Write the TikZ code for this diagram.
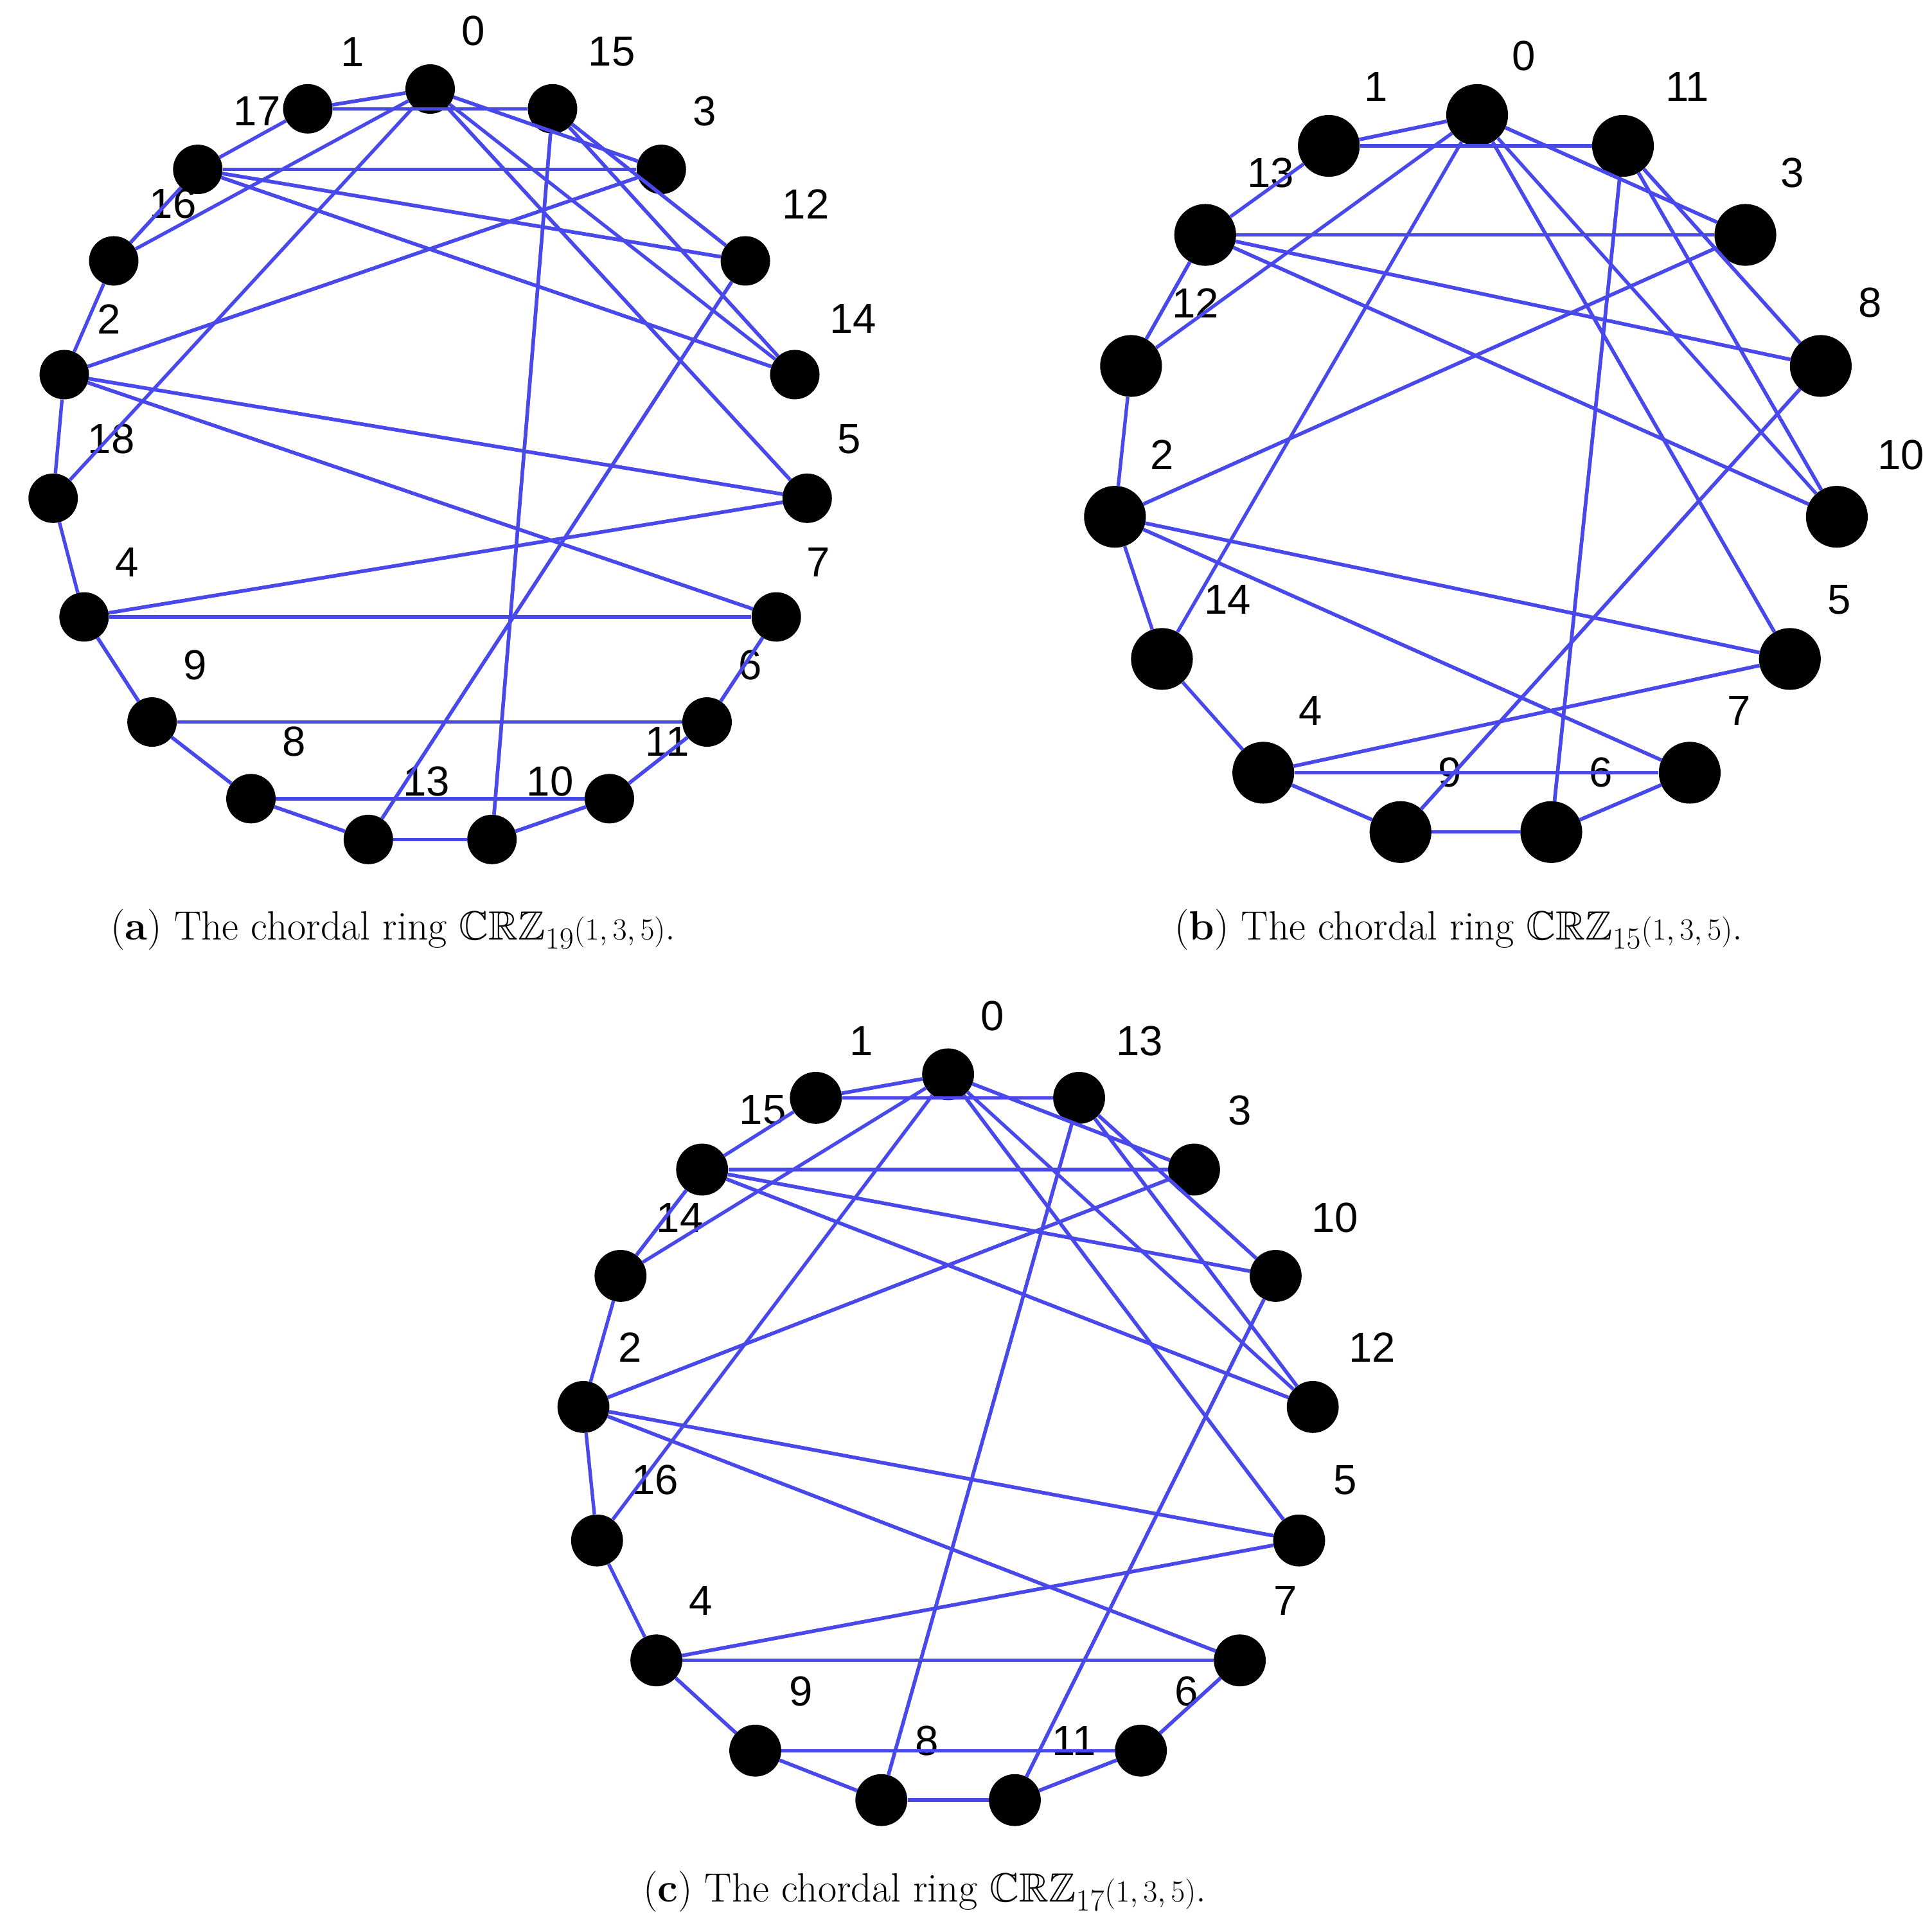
\documentclass[tikz,border=0pt]{standalone}
\usepackage{amssymb}
\usepackage{fontspec}
\newfontfamily\lblfont{Liberation Sans}
\tikzset{
  edge/.style={draw={rgb,255:red,72;green,72;blue,235}, line width=2.8pt},
  dotA/.style={circle, fill=black, inner sep=0pt, minimum size=40pt},
  dotB/.style={circle, fill=black, inner sep=0pt, minimum size=50pt},
  dotC/.style={circle, fill=black, inner sep=0pt, minimum size=42pt},
  lbl/.style={font=\lblfont\fontsize{34}{34}\selectfont, inner sep=0pt},
  captext/.style={font=\fontsize{33}{40}\selectfont, inner sep=0pt}
}
\newcommand\ringedges[2]{%
  \pgfmathtruncatemacro\nn{#2-1}%
  \foreach \i in {0,...,\nn}{\foreach \k in {1,3,5}{%
    \ifodd\i \pgfmathtruncatemacro\j{mod(\i-\k+#2,#2)}\else \pgfmathtruncatemacro\j{mod(\i+\k,#2)}\fi
    \draw[edge] (#1\i) -- (#1\j);}}}
\begin{document}
\begin{tikzpicture}[x=1pt,y=-1pt]
\useasboundingbox (0,0) rectangle (1563,1556);
% panel a
\foreach \n/\x/\y/\lx/\ly in {0/348/72/383/25,1/249/88/285/42,17/160/137/208/90,16/92/211/140/165,2/52/303/88/258,18/43/403/90/355,4/68/499/103/455,9/123/584/158/538,8/203/646/238/600,13/298/679/345/632,10/398/679/445/632,11/493/646/540/600,6/572/584/607/538,7/628/499/662/455,5/653/403/687/355,14/643/303/690/258,12/603/211/652/165,3/535/137/570/90,15/447/88/495/42}{
  \node[dotA] (a\n) at (\x,\y) {};
  \node[lbl] (la\n) at (\lx,\ly) {\n};
}
\ringedges{a}{19}
% panel b
\foreach \n/\x/\y/\lx/\ly in {0/1195/93/1233/45,1/1075/118/1113/70,13/975/190/1028/140,12/915/296/967/245,2/902/418/940/368,14/940/533/993/485,4/1022/625/1060/575,9/1133/673/1173/625,6/1255/673/1295/625,7/1367/625/1407/575,5/1448/533/1488/485,10/1486/418/1538/368,8/1473/296/1513/245,3/1412/190/1450/140,11/1313/118/1365/70}{
  \node[dotB] (b\n) at (\x,\y) {};
  \node[lbl] (lb\n) at (\lx,\ly) {\n};
}
\ringedges{b}{15}
% panel c
\foreach \n/\x/\y/\lx/\ly in {0/767/869/803/822,1/660/888/697/842,15/568/946/617/898,14/502/1032/550/985,2/472/1138/510/1090,16/483/1246/530/1197,4/531/1343/567/1295,9/611/1416/648/1368,8/713/1456/750/1408,11/821/1456/869/1408,6/923/1416/960/1368,7/1003/1343/1040/1295,5/1051/1246/1088/1197,12/1062/1138/1110/1090,10/1032/1032/1080/985,3/966/946/1003/898,13/873/888/922/842}{
  \node[dotC] (c\n) at (\x,\y) {};
  \node[lbl] (lc\n) at (\lx,\ly) {\n};
}
\ringedges{c}{17}
\node[captext] (capa) at (318,752) {(\textbf{a}) The chordal ring $\mathbb{CRZ}_{19}(1,3,5)$.};
\node[captext] (capb) at (1180,752) {(\textbf{b}) The chordal ring $\mathbb{CRZ}_{15}(1,3,5)$.};
\node[captext] (capc) at (748,1530) {(\textbf{c}) The chordal ring $\mathbb{CRZ}_{17}(1,3,5)$.};
\end{tikzpicture}
\end{document}
